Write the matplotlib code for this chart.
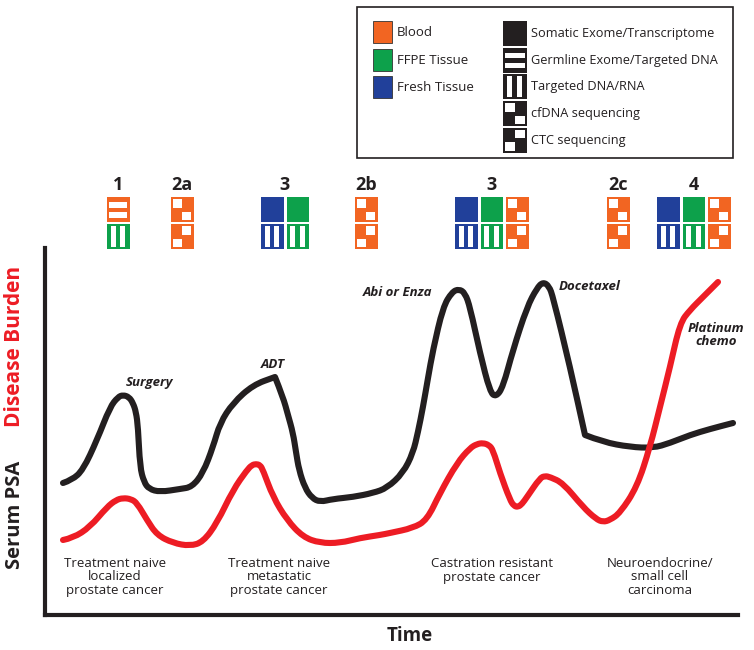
import matplotlib
matplotlib.use('Agg')
import matplotlib.pyplot as plt
from matplotlib.patches import Rectangle, PathPatch
from matplotlib.path import Path

plt.rcParams['font.family'] = ['Open Sans', 'DejaVu Sans']

# ── traces (x = time, y = level; canvas px, y down) ──
burden_x = [63, 72, 83, 97, 110, 118, 123, 129, 133, 136, 138, 140, 144, 149, 160, 180, 192,
            203, 213, 220, 233, 253, 275, 283, 288, 293, 296, 299, 305, 312, 320, 333, 353, 373,
            387, 403, 413, 418, 423, 428, 433, 443, 452, 459, 465, 470, 480, 490, 496, 503, 513,
            527, 537, 543, 549, 553, 570, 585, 603, 630, 653, 670, 690, 710, 733]
burden_y = [483, 480, 470, 440, 407, 397, 395, 397, 403, 412, 427, 467, 482, 489, 492, 489, 487,
            473, 447, 423, 403, 385, 377, 397, 415, 433, 452, 470, 488, 498, 502, 499, 497, 493,
            488, 473, 453, 432, 407, 378, 350, 307, 292, 289, 293, 307, 353, 392, 397, 387, 350,
            307, 288, 282, 286, 297, 367, 435, 442, 447, 448, 443, 435, 429, 423]
burden_corners = [22, 57]   # ADT peak and post-docetaxel kink are drawn sharp

psa_x = [63, 73, 90, 107, 116, 123, 131, 137, 147, 157, 173, 190, 203, 217, 233, 247, 252,
         256, 260, 263, 273, 287, 303, 320, 340, 360, 380, 390, 413, 427, 440, 457, 470, 477,
         483, 489, 493, 500, 510, 514, 518, 522, 527, 540, 545, 550, 563, 583, 596, 603, 610,
         620, 637, 650, 660, 670, 680, 690, 703, 718]
psa_y = [540, 538, 527, 507, 500, 498, 499, 503, 520, 535, 543, 546, 542, 523, 490, 470, 465,
         464, 465, 470, 497, 520, 537, 543, 543, 538, 535, 533, 528, 520, 493, 463, 448, 444,
         443, 445, 450, 473, 500, 506, 507, 504, 497, 478, 476, 477, 483, 507, 519, 522, 520,
         513, 487, 447, 407, 367, 323, 310, 297, 282]

treatments = ['Surgery', 'ADT', 'Abi or Enza', 'Docetaxel', 'Platinum\nchemo']
treatment_x = [149, 273, 398, 590, 716]
treatment_y = [383, 365, 293, 287, 335]

stages = ['Treatment naive\nlocalized\nprostate cancer',
          'Treatment naive\nmetastatic\nprostate cancer',
          'Castration resistant\nprostate cancer',
          'Neuroendocrine/\nsmall cell\ncarcinoma']
stage_x = [115, 279, 492, 660]

# sampling events: each column = (top sample, top assay, bottom sample, bottom assay)
events = ['1', '2a', '3', '2b', '3', '2c', '4']
event_x = [107, 171, 261, 355, 455, 607, 657]
blood_col = ('Blood', 'cfdna', 'Blood', 'ctc')
fresh_col = ('Fresh Tissue', 'somatic', 'Fresh Tissue', 'targeted')
ffpe_col = ('FFPE Tissue', 'somatic', 'FFPE Tissue', 'targeted')
event_cols = [
    [('Blood', 'germline', 'FFPE Tissue', 'targeted')],
    [blood_col],
    [fresh_col, ffpe_col],
    [blood_col],
    [fresh_col, ffpe_col, blood_col],
    [blood_col],
    [fresh_col, ffpe_col, blood_col],
]

samples = ['Blood', 'FFPE Tissue', 'Fresh Tissue']
sample_colors = {'Blood': '#f26522', 'FFPE Tissue': '#0da14b', 'Fresh Tissue': '#21409a'}
assays = ['somatic', 'germline', 'targeted', 'cfdna', 'ctc']
assay_labels = ['Somatic Exome/Transcriptome', 'Germline Exome/Targeted DNA',
                'Targeted DNA/RNA', 'cfDNA sequencing', 'CTC sequencing']

BLACK = '#231f20'
RED = '#ed1c24'

# white cut-outs per assay, as (x0, x1, y0, y1) fractions of the icon
HOLES = {
    'somatic': [],
    'germline': [(0.1, 0.9, 0.2, 0.42), (0.1, 0.9, 0.6, 0.82)],
    'targeted': [(0.17, 0.39, 0.08, 0.92), (0.59, 0.81, 0.08, 0.92)],
    'cfdna': [(0.09, 0.5, 0.09, 0.42), (0.5, 0.91, 0.58, 0.91)],
    'ctc': [(0.5, 0.91, 0.09, 0.42), (0.09, 0.5, 0.58, 0.91)],
}


def draw_icon(ax, x, y, w, h, color, assay):
    ax.add_patch(Rectangle((x, y), w, h, facecolor=color, edgecolor='none'))
    for x0, x1, y0, y1 in HOLES[assay]:
        ax.add_patch(Rectangle((x + x0 * w, y + y0 * h), (x1 - x0) * w, (y1 - y0) * h,
                               facecolor='white', edgecolor='none'))


def hand_path(xs, ys, corners=()):
    # quadratic bezier through the read points, so matplotlib draws a smooth stroke
    verts, codes = [(xs[0], ys[0])], [Path.MOVETO]
    for i in range(1, len(xs) - 1):
        if i in corners:
            verts.append((xs[i], ys[i]))
            codes.append(Path.LINETO)
            continue
        verts += [(xs[i], ys[i]), ((xs[i] + xs[i + 1]) / 2, (ys[i] + ys[i + 1]) / 2)]
        codes += [Path.CURVE3, Path.CURVE3]
    verts.append((xs[-1], ys[-1]))
    codes.append(Path.LINETO)
    return Path(verts, codes)


fig = plt.figure(figsize=(7.54, 6.5), dpi=100)

# ── main schematic axes (L-shaped frame) ──
ax = fig.add_axes([45 / 754, 35 / 650, 693 / 754, 367 / 650])
ax.set_xlim(45, 738)
ax.set_ylim(615, 248)
for side in ['top', 'right']:
    ax.spines[side].set_visible(False)
for side in ['left', 'bottom']:
    ax.spines[side].set_linewidth(3)
    ax.spines[side].set_color(BLACK)
ax.set_xticks([])
ax.set_yticks([])

for xs, ys, corners, col, z in [(burden_x, burden_y, burden_corners, BLACK, 3),
                                (psa_x, psa_y, (), RED, 4)]:
    ax.add_patch(PathPatch(hand_path(xs, ys, corners), fill=False, edgecolor=col, lw=4.4,
                           capstyle='round', joinstyle='round', zorder=z))

for name, tx, ty in zip(treatments, treatment_x, treatment_y):
    ax.text(tx, ty, name, ha='center', va='center', fontsize=9.5, fontweight='bold',
            fontstyle='italic', color=BLACK, linespacing=1.0)

for name, sx in zip(stages, stage_x):
    ax.text(sx, 557, name, ha='center', va='top', fontsize=9.5, color=BLACK,
            linespacing=1.05)

# ── overlay in canvas px for icons, legend and axis titles ──
ov = fig.add_axes([0, 0, 1, 1], facecolor='none')
ov.set_xlim(0, 754)
ov.set_ylim(650, 0)
ov.axis('off')

ov.text(410, 636, 'Time', ha='center', va='center', fontsize=13.5, fontweight='bold',
        color=BLACK)
ov.text(15, 515, 'Serum PSA', ha='center', va='center', rotation=90, fontsize=14.5,
        fontweight='bold', color=BLACK)
ov.text(15, 346, 'Disease Burden', ha='center', va='center', rotation=90, fontsize=15,
        fontweight='bold', color=RED)

icon_w, icon_h, pitch = 22.5, 25, 25.5
for label, ex, cols in zip(events, event_x, event_cols):
    for i, (s_top, a_top, s_bot, a_bot) in enumerate(cols):
        cx = ex + i * pitch
        draw_icon(ov, cx, 197, icon_w, icon_h, sample_colors[s_top], a_top)
        draw_icon(ov, cx, 224, icon_w, icon_h, sample_colors[s_bot], a_bot)
    centre = ex + ((len(cols) - 1) * pitch + icon_w) / 2
    ov.text(centre, 185, label, ha='center', va='center', fontsize=13, fontweight='bold',
            color=BLACK)

# legend box
ov.add_patch(Rectangle((357, 7), 376, 151, facecolor='white', edgecolor=BLACK, lw=1.2))
for i, s in enumerate(samples):
    y = 21 + i * 27.5
    ov.add_patch(Rectangle((373, y), 19, 22, facecolor=sample_colors[s], edgecolor='#333333',
                           lw=0.6))
    ov.text(397, y + 11.5, s, ha='left', va='center', fontsize=9.5, color=BLACK)
for i, (a, lab) in enumerate(zip(assays, assay_labels)):
    y = 21 + i * 26.7
    draw_icon(ov, 503, y, 24, 25, BLACK, a)
    ov.text(531, y + 12.5, lab, ha='left', va='center', fontsize=9.2, color=BLACK)

fig.savefig('out.png', dpi=100)
